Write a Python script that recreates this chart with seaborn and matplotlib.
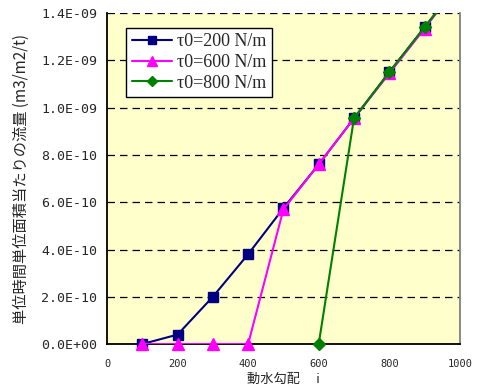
import matplotlib
matplotlib.use("Agg")
import matplotlib.pyplot as plt
import seaborn as sns
import pandas as pd
import numpy as np
from matplotlib.lines import Line2D

gradient = [100, 200, 300, 400, 500, 600, 700, 800, 900, 1000]
flow_200 = [0.0, 0.04e-9, 0.20e-9, 0.38e-9, 0.575e-9, 0.76e-9, 0.955e-9, 1.15e-9, 1.34e-9, 1.53e-9]
flow_600 = [0.0, 0.0, 0.0, 0.0, 0.57e-9, 0.76e-9, 0.955e-9, 1.145e-9, 1.335e-9, 1.53e-9]
grad_800 = [600, 700, 800, 900, 1000]
flow_800 = [0.0, 0.955e-9, 1.15e-9, 1.34e-9, 1.53e-9]
labels = ["τ0=200 N/m", "τ0=600 N/m", "τ0=800 N/m"]
yticks = [0, 0.2e-9, 0.4e-9, 0.6e-9, 0.8e-9, 1.0e-9, 1.2e-9, 1.4e-9]
ytick_labels = ["0.0E+00", "2.0E-10", "4.0E-10", "6.0E-10", "8.0E-10", "1.0E-09", "1.2E-09", "1.4E-09"]
xticks = [0, 200, 400, 600, 800, 1000]

sns.set_style("white")
plt.rcParams['font.family'] = ['Noto Sans CJK JP', 'DejaVu Sans']

fig = plt.figure(figsize=(4.82, 3.87), dpi=100)
ax = fig.add_axes([0.222, 0.111, 0.732, 0.855])
ax.set_facecolor("#FFFFCC")

df1 = pd.DataFrame({"x": gradient, "y": flow_200})
df2 = pd.DataFrame({"x": gradient, "y": flow_600})
df3 = pd.DataFrame({"x": grad_800, "y": flow_800})

sns.lineplot(data=df1, x="x", y="y", ax=ax, color="#000080", marker="s", markersize=7.5,
             markeredgecolor="#000080", linewidth=1.5, label=labels[0], zorder=3)
sns.lineplot(data=df2, x="x", y="y", ax=ax, color="#FF00FF", marker="^", markersize=9,
             markeredgecolor="#FF00FF", linewidth=1.5, label=labels[1], zorder=4)
sns.lineplot(data=df3, x="x", y="y", ax=ax, color="#008000", marker="D", markersize=6,
             markeredgecolor="#008000", linewidth=1.5, label=labels[2], zorder=5)

# draw markers unclipped (lines remain clipped to the axes)
for line in list(ax.lines):
    xd, yd = np.asarray(line.get_xdata()), np.asarray(line.get_ydata())
    mask = (xd <= 1000) & (yd <= 1.4e-9)
    ax.plot(xd[mask], yd[mask], linestyle='none',
            marker=line.get_marker(), markersize=line.get_markersize(),
            color=line.get_color(), markeredgecolor=line.get_color(),
            clip_on=False, zorder=line.get_zorder())
    line.set_marker('None')

ax.set_xlim(0, 1000)
ax.set_ylim(0, 1.4e-9)
ax.set_yticks(yticks)
ax.set_yticklabels(ytick_labels, fontsize=9.5, family='DejaVu Sans Mono')
ax.set_xticks(xticks)
ax.set_xticklabels([str(v) for v in xticks], fontsize=7.5, family='DejaVu Sans Mono')
ax.tick_params(axis='y', direction='out', length=4, width=1, color='black', pad=3)
ax.tick_params(axis='x', direction='in', length=3, width=1, color='black', pad=11)
for t in yticks[1:]:
    ax.axhline(t, color='black', linestyle=(0, (6, 4)), linewidth=0.9, zorder=1)

for side in ['left', 'bottom']:
    ax.spines[side].set_color('black')
    ax.spines[side].set_linewidth(1.3)
ax.spines['right'].set_color('#808080')
ax.spines['right'].set_linewidth(1.3)
ax.spines['top'].set_visible(False)

ax.set_xlabel("動水勾配　 i", fontsize=9.5, va='center')
ax.xaxis.set_label_coords(0.5, -0.106)
ax.set_ylabel("単位時間単位面積当たりの流量 (m3/m2/t)", fontsize=11, labelpad=8)

handles = [
    Line2D([], [], color="#000080", marker="s", markersize=6, linewidth=1.5),
    Line2D([], [], color="#FF00FF", marker="^", markersize=7, linewidth=1.5),
    Line2D([], [], color="#008000", marker="D", markersize=5, linewidth=1.5),
]
leg = ax.legend(handles, labels, loc='upper left', bbox_to_anchor=(0.055, 0.955), frameon=True,
                fancybox=False, edgecolor='black', framealpha=1, borderpad=0.3, labelspacing=0.2,
                handlelength=2.2, handletextpad=0.3, borderaxespad=0,
                prop={'family': 'Liberation Serif', 'size': 13})
leg.get_frame().set_linewidth(1.0)

fig.savefig("out.png", dpi=100)
